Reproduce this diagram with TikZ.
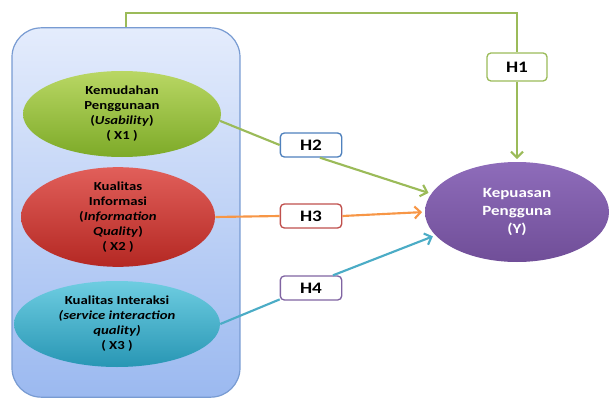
\documentclass[tikz,border=0pt]{standalone}
\usepackage{fontspec}
\setmainfont{Carlito}[FakeStretch=1.2]
\usetikzlibrary{arrows,arrows.meta,shapes.geometric}

\definecolor{grpline}{RGB}{120,155,210}
\definecolor{grptop}{RGB}{228,236,252}
\definecolor{grpbot}{RGB}{155,185,240}
\definecolor{lgreen}{RGB}{155,187,89}
\definecolor{lorange}{RGB}{247,150,70}
\definecolor{lcyan}{RGB}{75,172,198}
\definecolor{lblue}{RGB}{79,129,189}
\definecolor{lred}{RGB}{192,80,77}
\definecolor{lpurple}{RGB}{128,100,162}

\begin{document}
\begin{tikzpicture}[x=0.75pt,y=-0.75pt,>={Straight Barb[length=4.5pt,width=9pt]},shorten >=2pt,
    var/.style={ellipse,align=center,inner sep=0pt,font=\bfseries\fontsize{9.2}{11.25}\selectfont},
    hyp/.style={draw,rounded corners=3pt,fill=white,line width=1pt,minimum width=46pt,minimum height=18pt,font=\bfseries\fontsize{12}{12}\selectfont},
    link/.style={line width=1.6pt}]
    \useasboundingbox (0,0) rectangle (616,399);

    \node[draw=grpline,line width=0.9pt,rounded corners=22pt,top color=grptop,bottom color=grpbot,minimum width=171pt,minimum height=277pt] (grp) at (126,212.5) {};

    \node[var,top color={rgb,255:red,185;green,215;blue,100},bottom color={rgb,255:red,125;green,170;blue,40},minimum width=148.5pt,minimum height=64.5pt] (x1) at (122,114) {Kemudahan\\Penggunaan\\(\textit{Usability})\\( X1 )};
    \node[var,top color={rgb,255:red,225;green,95;blue,90},bottom color={rgb,255:red,180;green,40;blue,35},minimum width=145.5pt,minimum height=69pt] (x2) at (118,217) {Kualitas\\Informasi\\(\textit{Information}\\\textit{Quality})\\( X2 )};
    \node[var,top color={rgb,255:red,110;green,205;blue,225},bottom color={rgb,255:red,40;green,150;blue,180},minimum width=154.5pt,minimum height=64.5pt] (x3) at (117,324) {Kualitas Interaksi\\\textit{(service interaction}\\\textit{quality)}\\( X3 )};
    \node[var,text=white,font=\bfseries\fontsize{10.6}{13.5}\selectfont,top color={rgb,255:red,142;green,108;blue,186},bottom color={rgb,255:red,112;green,78;blue,152},minimum width=138pt,minimum height=75pt] (y) at (517,212) {Kepuasan\\Pengguna\\(Y)};

    \node[hyp,draw=lgreen,minimum height=21pt,minimum width=45pt] (h1) at (517,67) {H1};
    \node[hyp,draw=lblue] (h2) at (311,145) {H2};
    \node[hyp,draw=lred] (h3) at (311,216) {H3};
    \node[hyp,draw=lpurple] (h4) at (311,288) {H4};
    \coordinate (turn) at (517,13);

    % X1 -> Y
    \draw[link,lgreen,shorten >=0pt] (grp.north) |- (turn) -- (h1.north);
    \draw[link,lgreen,->] (h1.south) -- (y.north);
    % X1 -> H2 -> Y
    \draw[link,lgreen,shorten >=0pt] (x1.-4) -- (h2.west);
    \draw[link,lgreen,->] (h2.-55) -- (y.168);
    % X2 -> H3 -> Y
    \draw[link,lorange,shorten >=0pt] (x2.east) -- (h3.west);
    \draw[link,lorange,->] (h3.east) -- (y.west);
    % X3 -> H4 -> Y
    \draw[link,lcyan,shorten >=0pt] (x3.east) -- (h4.200);
    \draw[link,lcyan,->] (h4.30) -- (y.196);
\end{tikzpicture}
\end{document}
